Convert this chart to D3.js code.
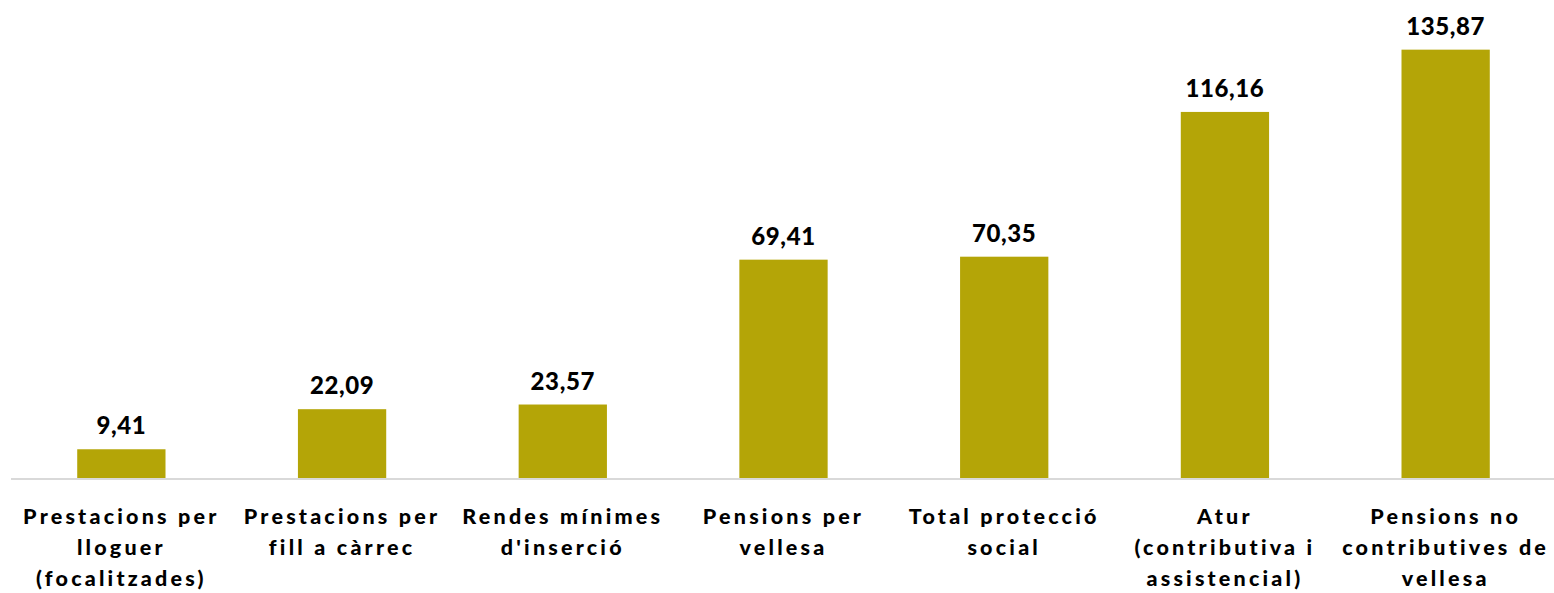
<!DOCTYPE html>
<html>
<head>
<meta charset="utf-8">
<script src="https://cdn.jsdelivr.net/npm/d3@7"></script>
<style>
  body { margin: 0; background: #fff; }
  svg text { font-family: Lato, "Open Sans", sans-serif; font-weight: 900; fill: #000; }
</style>
</head>
<body>
<svg id="svg" width="1554" height="593"></svg>
<script>
// categories (lines split by "|"), values as shown on the labels
var categories = [
  "Prestacions per|lloguer|(focalitzades)",
  "Prestacions per|fill a càrrec",
  "Rendes mínimes|d'inserció",
  "Pensions per|vellesa",
  "Total protecció|social",
  "Atur|(contributiva i|assistencial)",
  "Pensions no|contributives de|vellesa"
];
var values = [9.41, 22.09, 23.57, 69.41, 70.35, 116.16, 135.87];
var valueLabels = ["9,41", "22,09", "23,57", "69,41", "70,35", "116,16", "135,87"];

var svg = d3.select("#svg");

var x = d3.scaleBand()
  .domain(categories)
  .range([11, 1556])
  .paddingInner(0.6)
  .paddingOuter(0.3);

var y = d3.scaleLinear()
  .domain([0, 150])
  .range([479, 5]);

// bars
svg.selectAll("rect.bar").data(values).enter()
  .append("rect")
  .attr("class", "bar")
  .attr("x", function(d, i) { return x(categories[i]); })
  .attr("y", function(d) { return y(d); })
  .attr("width", x.bandwidth())
  .attr("height", function(d) { return y(0) - y(d); })
  .attr("fill", "#b4a507");

// baseline
var axis = svg.append("g")
  .attr("transform", "translate(0," + y(0) + ")")
  .call(d3.axisBottom(x).tickSize(0).tickFormat(""));
axis.select(".domain").attr("stroke", "#d9d9d9").attr("stroke-width", 2)
  .attr("d", "M11,0H1554");

// category labels
var ticks = svg.selectAll("text.cat").data(categories).enter()
  .append("text")
  .attr("class", "cat")
  .attr("text-anchor", "middle")
  .attr("font-size", 21.5)
  .attr("letter-spacing", 3.2)
  .attr("x", function(d) { return x(d) + x.bandwidth() / 2; })
  .attr("y", 524);
ticks.selectAll("tspan").data(function(d) { return d.split("|"); }).enter()
  .append("tspan")
  .attr("x", function() { return d3.select(this.parentNode).attr("x"); })
  .attr("dy", function(d, i) { return i === 0 ? 0 : 31; })
  .text(function(d) { return d; });

// value labels
svg.selectAll("text.val").data(values).enter()
  .append("text")
  .attr("class", "val")
  .attr("text-anchor", "middle")
  .attr("font-size", 24)
  .attr("letter-spacing", 0.6)
  .attr("x", function(d, i) { return x(categories[i]) + x.bandwidth() / 2; })
  .attr("y", function(d) { return y(d) - 15; })
  .text(function(d, i) { return valueLabels[i]; });
</script>
</body>
</html>
